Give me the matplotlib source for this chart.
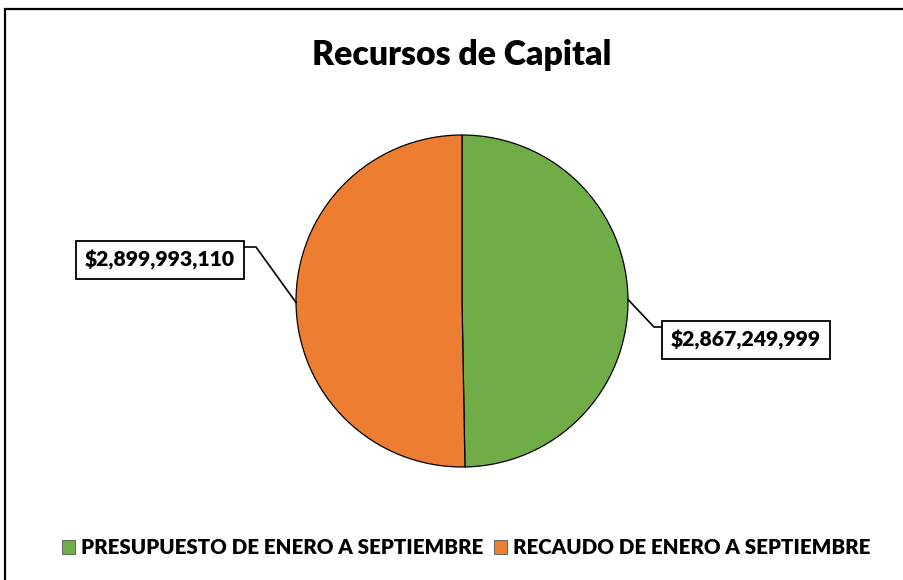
import matplotlib
matplotlib.use("Agg")
import matplotlib.pyplot as plt
from matplotlib.patches import Rectangle, Patch
import numpy as np

categories = ["PRESUPUESTO DE ENERO A SEPTIEMBRE", "RECAUDO DE ENERO A SEPTIEMBRE"]
values = [2867249999, 2899993110]
labels = ["$2,867,249,999", "$2,899,993,110"]
colors = ["#70AD47", "#ED7D31"]
title = "Recursos de Capital"

W, H = 904, 580
fig = plt.figure(figsize=(W / 100, H / 100), dpi=100)
ax = fig.add_axes([0, 0, 1, 1])

FONT = "Lato"
WEIGHT = "heavy"

cx, cy, R = 462, H - 301, 166
wedges, _ = ax.pie(values, colors=colors, startangle=90, counterclock=False,
                   center=(cx, cy), radius=R, frame=False,
                   wedgeprops=dict(edgecolor="black", linewidth=0.9))
ax.set_xlim(0, W)
ax.set_ylim(0, H)
ax.set_aspect("equal")
ax.axis("off")

# outer border (extends beyond right/bottom edge)
ax.add_patch(Rectangle((5, -10), W + 20, H - 9 + 10, fill=False, lw=1.6, ec="black"))

ax.text(462, H - 55, title, ha="center", va="center", fontsize=24.3,
        fontweight=WEIGHT, family=FONT)

# label positions (box centers) and leader elbows
box_pos = [(746, H - 340), (160, H - 260)]
elbows = [((654, H - 327), (663, H - 327)), ((256, H - 247), (243, H - 247))]
for w, lab, (bx, by), (e1, e2) in zip(wedges, labels, box_pos, elbows):
    th = np.deg2rad((w.theta1 + w.theta2) / 2)
    px, py = cx + R * np.cos(th), cy + R * np.sin(th)
    ax.plot([px, e1[0], e2[0]], [py, e1[1], e2[1]], color="black", lw=1.2,
            solid_joinstyle="miter")
    ax.text(bx, by, lab, ha="center", va="center", fontsize=15.2,
            fontweight=WEIGHT, family=FONT,
            bbox=dict(boxstyle="square,pad=0.42", fc="white", ec="black", lw=1.3))

handles = [Patch(facecolor=c, edgecolor="#555555", lw=0.6) for c in colors]
fig.legend(handles, categories, loc="center", ncol=2,
           bbox_to_anchor=(466 / W, 1 - 548 / H), frameon=False,
           handlelength=0.65, handleheight=0.65, handletextpad=0.3,
           columnspacing=0.5,
           prop=dict(family=FONT, weight=WEIGHT, size=14.8))

fig.savefig("out.png", dpi=100)
